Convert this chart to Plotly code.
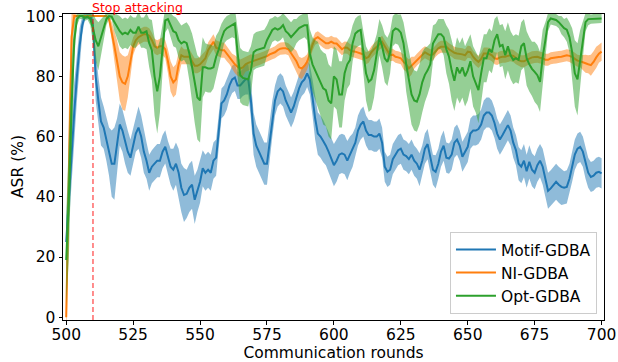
import plotly.graph_objects as go

rounds = list(range(500, 701))

motif = [
    25, 40, 55, 68, 80, 90, 97, 100, 100, 100,
    97, 80, 72, 65, 63, 59, 55, 51, 51, 57,
    64, 62, 58, 55, 53, 57, 61, 63, 60, 55,
    52, 48, 50, 51, 52, 52, 55, 56.6, 53, 50,
    49, 51, 48, 43, 40.6, 41, 43, 44, 39, 42,
    45, 49.5, 48, 49, 48, 52, 53, 62, 71, 72,
    74, 77, 79, 79.6, 77, 77, 78, 79, 79, 72,
    61, 57, 55, 53, 51, 51, 58, 66, 72, 75,
    76, 75, 72, 70, 68, 70, 73, 76, 78, 79,
    81, 79, 73, 66, 61, 60, 58.5, 57, 55, 53,
    50.5, 52, 54, 54.4, 54, 52, 54, 55.5, 58, 62,
    64, 65, 62, 60.5, 60.5, 60, 60, 61, 58, 50,
    48.3, 49, 52.5, 54, 55.5, 56, 54, 53.5, 52.5, 54,
    52, 51, 49, 52, 56, 57.5, 53, 49, 48.3, 51,
    55, 57, 53, 52.7, 54, 58, 59, 57, 53.3, 55,
    56.6, 61, 62, 62, 62.5, 64, 67, 68, 68, 67,
    64.5, 61, 59, 60.5, 62, 63.8, 62, 58, 55.5, 51,
    50, 52, 48.5, 51.6, 49, 48, 50.5, 52, 50, 46,
    42, 42.8, 44, 45, 44, 43.3, 43, 43.3, 46, 50,
    54, 56, 56.6, 55, 51, 48, 46.6, 47, 48, 48.3,
    47.8,
]
motif_sd = [
    8, 10, 10, 10, 8, 6, 3, 1, 1, 1,
    3, 8, 8, 8, 7, 7, 8, 11, 12, 9,
    7, 7, 7, 7, 6, 6, 6, 7, 7, 7,
    6, 6, 5.5, 5.5, 5.5, 5.5, 5.5, 5.5, 5.5, 6,
    7, 7, 8, 8, 9, 8, 8, 8, 8, 7,
    7, 6, 6, 6, 6, 6, 6, 6, 5, 5,
    5, 4.5, 4.5, 4.5, 4.5, 4.5, 4.5, 5, 5, 6,
    7, 7, 7, 7, 7, 7, 7, 6, 5, 5,
    5, 5, 5, 5, 5, 5, 5, 4.5, 4.5, 4.5,
    4.5, 5, 6, 7, 7, 7, 7, 6.5, 6.5, 7,
    7, 7, 6.5, 6.5, 6.5, 6.5, 6, 5.5, 5, 5,
    5, 5, 5, 5, 5, 5, 5, 5, 5, 5,
    5, 5, 5, 5, 5, 5, 5, 5, 5, 5,
    5, 5, 5.5, 5, 5, 5, 5, 5, 5.5, 5,
    5, 5, 5, 5, 5, 5, 5, 5, 5, 5,
    5, 5, 5, 5, 5, 5, 5, 5, 5, 5,
    5, 5, 5, 5, 5, 5, 5, 5, 5, 5.5,
    5.5, 5.5, 5.5, 5.5, 5.5, 5.5, 5.5, 5.5, 6, 6,
    6, 6, 6, 6, 6, 6, 5.5, 5.5, 5, 5,
    5, 5, 5, 5, 5, 5, 5, 5, 5, 5,
    5,
]

ni = [
    0, 50, 93, 100, 100, 100, 100, 100, 100, 100,
    100, 100, 100, 100, 100, 100, 99, 95, 90, 85,
    80, 78, 77.5, 80, 85, 90, 92, 93, 93.5, 94,
    94, 93.5, 92, 90, 89.5, 90, 90, 89, 85, 80,
    78, 79, 84, 87, 86.5, 86.5, 86.5, 85, 83.5, 83.5,
    84, 85, 86, 88.7, 90, 91.5, 89.5, 89, 88.7, 88.7,
    87.5, 86.5, 85, 84, 83.2, 82.6, 83, 84, 84.5, 84.8,
    85, 85.4, 85.7, 86, 86.3, 86.7, 87.3, 87.7, 88, 88.7,
    89.2, 89.3, 89.3, 89, 87.7, 86.5, 85, 83, 82.6, 83.5,
    84.8, 87.5, 90.5, 92.5, 93, 92.3, 91.5, 91, 91, 91.5,
    91, 90.9, 90, 89, 89.6, 89.5, 88.7, 88.3, 88.2, 87.8,
    87.6, 87.3, 86, 86.5, 88, 89, 89.8, 90.8, 91.5, 90,
    88.7, 87, 87.2, 86.5, 86.3, 86, 84.8, 84, 82.6, 83.5,
    84.5, 85.5, 86.5, 87.3, 88, 87.5, 87, 87.3, 88.5, 89.3,
    89.8, 89.8, 89.8, 89, 88.5, 87.8, 87.6, 87.5, 87.3, 87,
    88.2, 88, 86.5, 85.5, 84.8, 85.8, 87.6, 87.6, 87.5, 87,
    86, 85.8, 86.3, 86.5, 86.5, 86.8, 87, 86.8, 86, 85.4,
    85, 85, 85.5, 86, 86.3, 86.4, 86.5, 86.2, 86, 85.5,
    85.5, 86, 86.2, 86.3, 86.4, 86.5, 86.8, 87, 86.8, 86.5,
    85.8, 85.2, 85, 84.6, 84.2, 84, 83.7, 84.8, 86.3, 87.5,
    88.2,
]
ni_sd = [
    10, 20, 8, 1, 0.3, 0.3, 0.3, 0.3, 0.3, 0.3,
    0.3, 0.3, 0.3, 0.3, 0.3, 0.3, 1, 3, 5, 7,
    8, 9, 9, 7, 5, 3, 2.5, 2.5, 2.5, 2.5,
    2.5, 2.5, 2.5, 2.5, 2.5, 2.5, 3, 3, 4, 5,
    5, 5, 4, 3, 2.5, 2.5, 2.5, 2.5, 2.5, 2.5,
    2.5, 2.5, 2.5, 2.5, 2.5, 2.5, 2.5, 2.5, 2.5, 2.5,
    2.5, 2.5, 2.5, 3, 3, 3, 3, 2.5, 2.5, 2.5,
    2, 2, 2, 2, 2, 2, 2, 2, 2, 2,
    2, 2, 2, 2, 2.5, 3, 3.5, 3.5, 3.5, 3,
    2.5, 2.5, 2, 2, 2, 2, 2, 2, 2, 2,
    2, 2, 2, 2, 2, 2, 2, 2, 2, 2,
    2, 2, 2, 2, 2, 2, 2, 2, 2, 2,
    2, 2, 2, 2, 2, 2, 2.5, 2.5, 3, 3,
    2, 2, 2, 2, 2, 2, 2, 2, 2, 2,
    2, 2, 2, 2, 2, 2, 2, 2, 2, 2,
    2, 2, 2, 2, 2, 2, 2, 2, 2, 2,
    2, 2, 2, 2, 2, 2, 2, 2, 2, 2,
    2, 2, 2, 2, 2, 2, 2, 2, 2, 2,
    2, 2, 2, 2, 2, 2, 2, 2, 2, 2,
    2, 2, 2, 2.5, 3, 3, 3.5, 3.5, 3.5, 3,
    3,
]

opt = [
    19, 40, 70, 92, 99, 100, 100, 99.5, 99.8, 99,
    96, 92, 90, 93, 96, 99, 100, 99.8, 98, 96.5,
    95, 94, 94.5, 94, 95.4, 94.5, 94.5, 96.5, 94.5, 94.5,
    95, 91, 88.7, 80, 75, 80, 89, 98.6, 99, 97,
    95, 94.5, 92, 90.9, 91.5, 91, 87.6, 83.2, 77.6, 73,
    72, 83, 83, 82.6, 82.6, 83, 86.5, 89, 92.5, 95,
    96, 96.5, 97, 97.6, 88, 80.4, 79.5, 79.3, 79, 82,
    88, 88.7, 89, 89.3, 89.5, 92, 94, 95.4, 96, 95.5,
    96, 97, 95, 94.2, 93, 94, 95, 96, 96.5, 97,
    97, 87.6, 84, 82, 80.5, 78, 76, 75.4, 72, 71,
    80, 79, 74, 74, 81, 84, 85.4, 91, 94.2, 95,
    95.4, 88, 81, 78.2, 79, 82, 87, 93, 90, 86,
    84.8, 88, 95, 95.9, 95.5, 94.5, 91, 84, 79, 74,
    72, 71.6, 74, 78, 80.5, 82, 84, 90.9, 92.5, 94,
    94, 93, 89, 86.5, 82, 78.5, 83, 81, 83, 80,
    82, 85, 80, 78, 75.4, 81, 86, 86, 89, 88,
    92, 94, 90, 90.4, 87, 90, 87, 85.4, 86, 85.5,
    90, 91, 86, 84, 82.5, 81.5, 80.4, 78.2, 86.5, 92,
    98, 99.2, 99, 98.7, 98, 97, 96, 95.5, 93, 88,
    81, 79, 85.4, 92, 98, 99, 99, 99.2, 99.2, 99.2,
    99.2,
]
opt_sd = [
    15, 20, 15, 6, 2, 1, 1, 1, 1, 2,
    5, 7, 8, 6, 4, 2, 1, 1, 3, 4,
    5, 5, 5, 5, 5, 5, 5, 5, 5, 5,
    6, 8, 10, 13, 14, 12, 8, 4, 3, 4,
    5, 5, 6, 6, 6, 7, 9, 11, 13, 14,
    14, 10, 8, 8, 8, 7, 7, 6, 5, 4,
    4, 4, 4, 5, 8, 9, 9, 9, 9, 8,
    6, 6, 6, 6, 6, 5, 5, 4, 4, 4,
    4, 4, 5, 5, 5, 5, 4, 4, 4, 4,
    5, 8, 9, 10, 11, 11, 12, 12, 12, 12,
    10, 10, 11, 11, 9, 8, 8, 6, 5, 5,
    5, 7, 9, 10, 10, 9, 7, 6, 7, 8,
    8, 7, 5, 5, 5, 6, 7, 9, 10, 10,
    10, 10, 10, 10, 9, 8, 7, 6, 5, 5,
    5, 6, 8, 9, 10, 10, 10, 10, 10, 10,
    10, 9, 10, 10, 11, 9, 8, 8, 7, 7,
    7, 6, 7, 7, 8, 8, 8, 8, 8, 8,
    8, 8, 9, 9, 9, 10, 10, 10, 9, 6,
    3, 2, 2, 2, 2, 3, 3, 4, 5, 8,
    11, 12, 10, 6, 3, 2, 1.5, 1.5, 1.5, 1.5,
    1.5,
]

series_names = ["Motif-GDBA", "NI-GDBA", "Opt-GDBA"]
series_vals = [motif, ni, opt]
series_sd = [motif_sd, ni_sd, opt_sd]
colors = ["#1f77b4", "#ff7f0e", "#2ca02c"]
bands = ["rgba(31,119,180,0.5)", "rgba(255,127,14,0.5)", "rgba(44,160,44,0.5)"]

stop_round = 510
x_ticks = [500, 525, 550, 575, 600, 625, 650, 675, 700]
y_ticks = [0, 20, 40, 60, 80, 100]

FONT = "DejaVu Sans"
FS = 15.5
fig = go.Figure()

for name, vals, sd, c, b in zip(series_names, series_vals, series_sd, colors, bands):
    upper = [v + s for v, s in zip(vals, sd)]
    lower = [v - s for v, s in zip(vals, sd)]
    fig.add_trace(go.Scatter(
        x=rounds, y=vals, mode="lines", name=name,
        line=dict(color=c, width=2),
    ))
    fig.add_trace(go.Scatter(
        x=rounds + rounds[::-1], y=upper + lower[::-1],
        fill="toself", fillcolor=b, mode="lines",
        line=dict(width=0, color=b), hoverinfo="skip", showlegend=False,
    ))

fig.add_vline(x=stop_round, line=dict(color="rgba(255,0,0,0.6)", width=1.5, dash="5px,3px"))
fig.add_annotation(
    x=stop_round, y=1.0, xref="x", yref="paper", text="Stop attacking",
    showarrow=False, xanchor="left", yanchor="middle", xshift=-3, yshift=7,
    font=dict(family=FONT, size=12.5, color="red"),
)
# y-axis title placed as rotated text in the left margin
fig.add_annotation(
    x=0, y=0.5, xref="paper", yref="paper", text="ASR (%)", textangle=-90,
    showarrow=False, xanchor="center", yanchor="middle", xshift=-45,
    font=dict(family=FONT, size=FS, color="black"),
)

axis_common = dict(
    showgrid=False, zeroline=False, showline=True, linecolor="black", linewidth=1,
    mirror=True, ticks="outside", ticklen=3.5, tickwidth=1, tickcolor="black",
    tickfont=dict(family=FONT, size=FS, color="black"),
)

fig.update_layout(
    width=618, height=362,
    margin=dict(l=63, r=14, t=14, b=42, autoexpand=False),
    paper_bgcolor="white", plot_bgcolor="white",
    font=dict(family=FONT, size=FS, color="black"),
    xaxis=dict(range=[498.8, 700.9], tickvals=x_ticks, automargin=False,
               ticklabelstandoff=-3,
               title=dict(text="Communication rounds", font=dict(family=FONT, size=FS), standoff=4),
               **axis_common),
    yaxis=dict(range=[-0.9, 100.7], tickvals=y_ticks, automargin=False,
               **axis_common),
    legend=dict(
        x=0.987, y=0.02, xanchor="right", yanchor="bottom",
        bgcolor="rgba(255,255,255,0.8)", bordercolor="#cccccc", borderwidth=1,
        font=dict(family=FONT, size=FS), itemwidth=40, tracegroupgap=0,
    ),
    showlegend=True,
)

fig.write_html(
    "out.html",
    config={"displayModeBar": False},
    post_script="document.body.style.margin='0';document.body.style.overflow='hidden';",
)
